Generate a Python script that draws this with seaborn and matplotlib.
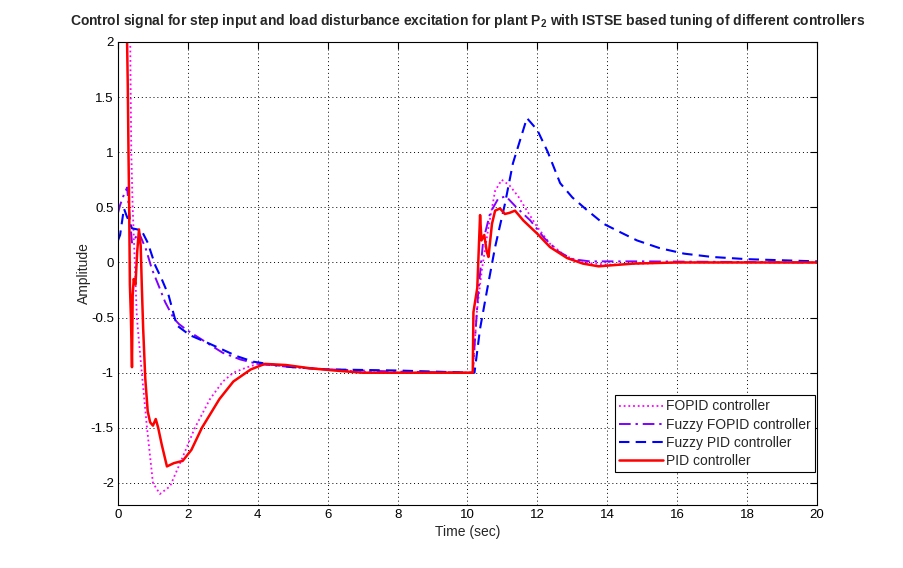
import numpy as np
import pandas as pd
import matplotlib
matplotlib.use("Agg")
import matplotlib.pyplot as plt
import seaborn as sns

# ---- data ----
t_fopid = [0, 0.3, 0.35, 0.38, 0.42, 0.54, 0.68, 0.83, 1.0, 1.2, 1.49, 1.83, 2.2, 2.63,
           3.0, 3.3, 3.7, 4.0, 4.5, 5.5, 6.5, 7.5, 10.15, 10.27, 10.41, 10.6, 10.79,
           10.98, 11.2, 11.45, 11.7, 12.0, 12.36, 12.8, 13.3, 14.0, 15.0, 16.0, 20]
y_fopid = [4.0, 2.6, 2.0, 1.0, 0.5, -0.5, -1.0, -1.5, -2.0, -2.1, -2.03, -1.78, -1.5, -1.24,
           -1.08, -1.0, -0.95, -0.92, -0.93, -0.96, -0.98, -1.0, -1.0, -0.44, -0.07, 0.32, 0.65,
           0.75, 0.7, 0.6, 0.47, 0.32, 0.17, 0.06, 0.0, -0.02, -0.01, 0.0, 0.0]

t_ffopid = [0, 0.06, 0.15, 0.26, 0.4, 0.6, 0.8, 0.97, 1.15, 1.35, 1.6, 1.75, 2.0, 2.5, 3.0,
            3.5, 4.0, 5.0, 6.0, 8.0, 10.15, 10.3, 10.45, 10.65, 10.88, 11.1, 11.4, 11.8,
            12.2, 12.6, 13.0, 13.5, 14.0, 15.0, 20]
y_ffopid = [0.45, 0.52, 0.6, 0.68, 0.18, 0.27, 0.12, -0.06, -0.2, -0.36, -0.51, -0.56, -0.62,
            -0.72, -0.82, -0.88, -0.92, -0.95, -0.97, -0.99, -1.0, -0.3, 0.2, 0.45, 0.58, 0.6,
            0.5, 0.38, 0.22, 0.1, 0.03, 0.01, 0.01, 0.01, 0.0]

t_fpid = [0, 0.06, 0.17, 0.25, 0.4, 0.55, 0.69, 0.85, 1.07, 1.25, 1.45, 1.68, 2.06, 2.5,
          2.92, 3.4, 3.87, 4.5, 5.0, 6.0, 8.0, 10.15, 10.2, 10.36, 10.56, 10.79, 11.07,
          11.3, 11.7, 12.0, 12.3, 12.65, 13.0, 13.4, 13.9, 14.4, 14.85, 15.5, 16.2, 17.0,
          18.0, 19.0, 20]
y_fpid = [0.2, 0.25, 0.49, 0.42, 0.31, 0.3, 0.28, 0.18, -0.03, -0.15, -0.3, -0.57, -0.66,
          -0.72, -0.78, -0.85, -0.9, -0.93, -0.95, -0.97, -0.98, -1.0, -1.0, -0.6, -0.25,
          0.14, 0.53, 0.9, 1.31, 1.2, 1.0, 0.72, 0.59, 0.48, 0.35, 0.27, 0.2, 0.13, 0.08,
          0.05, 0.03, 0.02, 0.01]

t_pid = [0, 0.24, 0.26, 0.28, 0.30, 0.32, 0.34, 0.37, 0.40, 0.42, 0.45, 0.50, 0.55, 0.60,
         0.65, 0.68, 0.72, 0.78, 0.85, 0.92, 1.0, 1.08, 1.15, 1.25, 1.4, 1.6, 1.85, 2.1,
         2.4, 2.9, 3.3, 3.8, 4.2, 4.8, 5.5, 6.2, 7.0, 10.15, 10.17, 10.28, 10.36, 10.4,
         10.48, 10.55, 10.6, 10.7, 10.79, 10.93, 11.07, 11.2, 11.36, 11.6, 12.0, 12.36,
         12.85, 13.3, 13.75, 14.75, 16.0, 20]
y_pid = [4.0, 3.0, 2.0, 1.6, 1.0, 0.5, -0.2, -0.5, -0.95, -0.3, -0.15, -0.2, 0.1, 0.3,
         0.15, -0.2, -0.6, -1.05, -1.35, -1.45, -1.48, -1.42, -1.5, -1.65, -1.85, -1.82,
         -1.8, -1.7, -1.5, -1.24, -1.08, -0.97, -0.92, -0.93, -0.96, -0.98, -1.0, -1.0,
         -0.45, -0.23, 0.43, 0.2, 0.25, 0.1, 0.05, 0.35, 0.47, 0.49, 0.44, 0.45, 0.47, 0.38,
         0.26, 0.14, 0.04, -0.01, -0.035, -0.01, 0.0, 0.0]

series_names = ["FOPID controller", "Fuzzy FOPID controller", "Fuzzy PID controller", "PID controller"]
x_ticks = [0, 2, 4, 6, 8, 10, 12, 14, 16, 18, 20]
y_ticks = [-2, -1.5, -1, -0.5, 0, 0.5, 1, 1.5, 2]
y_tick_labels = ["-2", "-1.5", "-1", "-0.5", "0", "0.5", "1", "1.5", "2"]

for a, b in [(t_fopid, y_fopid), (t_ffopid, y_ffopid), (t_fpid, y_fpid), (t_pid, y_pid)]:
    assert len(a) == len(b), (len(a), len(b))

# ---- style ----
sns.set_style("white")
plt.rcParams["font.family"] = ["Liberation Sans", "DejaVu Sans"]
plt.rcParams["mathtext.fontset"] = "custom"
plt.rcParams["mathtext.rm"] = "Liberation Sans"
plt.rcParams["mathtext.bf"] = "Liberation Sans:bold"

fig = plt.figure(figsize=(9.04, 5.68), dpi=100)
fig.patch.set_facecolor("white")
ax = fig.add_axes([118 / 904, 1 - 505 / 568, (817 - 118) / 904, (505 - 42) / 568])

styles = [
    dict(color="#FF00FF", linestyle=(0, (1, 1.6)), linewidth=1.3),
    dict(color="#8000FF", linestyle=(0, (6, 2.5, 1.2, 2.5)), linewidth=1.4),
    dict(color="#0000FF", linestyle=(0, (5, 3)), linewidth=1.5),
    dict(color="#FF0000", linestyle="-", linewidth=1.8),
]
data = [(t_fopid, y_fopid), (t_ffopid, y_ffopid), (t_fpid, y_fpid), (t_pid, y_pid)]
for (tt, yy), name, st in zip(data, series_names, styles):
    df = pd.DataFrame({"t": tt, "y": yy})
    sns.lineplot(data=df, x="t", y="y", ax=ax, label=name, estimator=None,
                 sort=False, **st)

ax.set_xlim(0, 20)
ax.set_ylim(-2.2, 2)
ax.set_xticks(x_ticks)
ax.set_xticklabels([str(v) for v in x_ticks])
ax.set_yticks(y_ticks)
ax.set_yticklabels(y_tick_labels)
ax.grid(True, color="black", linestyle=(0, (1, 3)), linewidth=0.7)
ax.tick_params(direction="in", length=5, width=0.8, top=True, right=True,
               labelsize=9.5, colors="black", pad=3)
for s in ax.spines.values():
    s.set_visible(True)
    s.set_color("black")
    s.set_linewidth(0.8)

ax.set_xlabel("Time (sec)", fontsize=10, labelpad=3)
ax.set_ylabel("Amplitude", fontsize=10)
ax.yaxis.set_label_coords(-0.039, 0.5)
ax.set_title("Control signal for step input and load disturbance excitation for plant P$_\\mathbf{2}$ "
             "with ISTSE based tuning of different controllers",
             fontsize=10, fontweight="bold", pad=12)

leg = ax.legend(loc="lower right", bbox_to_anchor=(0.997, 0.071), fontsize=10,
                frameon=True, fancybox=False, edgecolor="black", framealpha=1,
                borderpad=0.3, labelspacing=0.3, handlelength=3.2, handletextpad=0.2,
                borderaxespad=0.0)
leg.get_frame().set_linewidth(0.8)

fig.savefig("out.png", dpi=100, facecolor="white")
